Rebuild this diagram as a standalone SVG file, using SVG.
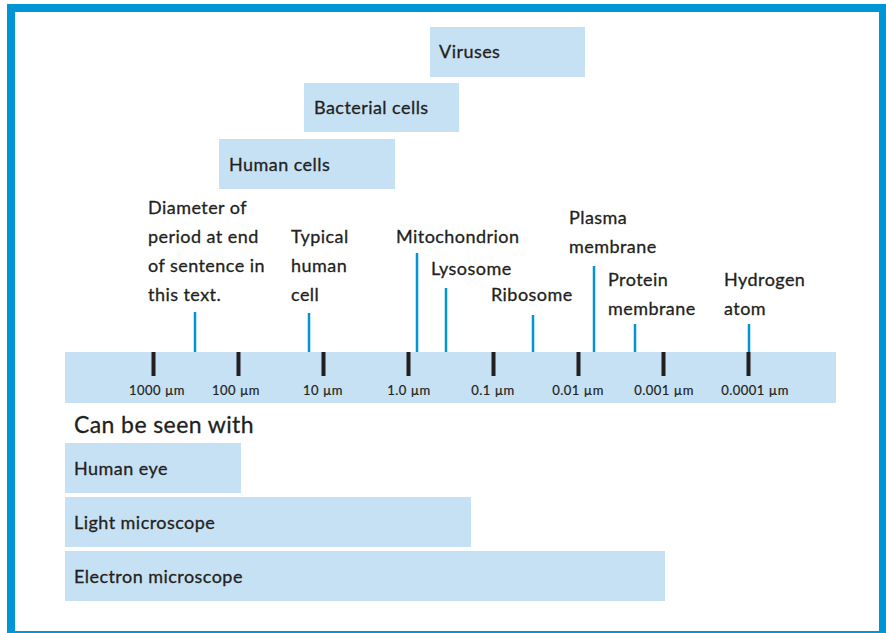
<svg xmlns="http://www.w3.org/2000/svg" width="886" height="633" viewBox="0 0 886 633">
<style>
.bar{fill:#c7e1f4}
.t{font-family:Lato,"Noto Sans",sans-serif;font-size:18px;letter-spacing:0.45px;fill:#231f20;stroke:#231f20;stroke-width:0.3}
.s{font-family:Lato,"Noto Sans",sans-serif;font-size:13px;letter-spacing:0.5px;fill:#231f20;text-anchor:middle;stroke:#231f20;stroke-width:0.2}
.tick{fill:#231f20}
.ln{stroke:#0096d6;stroke-width:2.5}
</style>
<rect width="886" height="633" fill="#fff"/>
<g id="frame" fill="#0096d6">
<rect x="7" y="4" width="879" height="8"/>
<rect x="7" y="4" width="8" height="629"/>
<rect x="879" y="4" width="7" height="629"/>
<rect x="7" y="631" width="879" height="2"/>
</g>
<g id="viruses"><rect class="bar" x="430" y="27" width="155" height="50"/><text class="t" x="439" y="58">Viruses</text></g>
<g id="bacterial"><rect class="bar" x="304" y="83" width="155" height="49"/><text class="t" x="314" y="114">Bacterial cells</text></g>
<g id="human-cells"><rect class="bar" x="219" y="139" width="176" height="50"/><text class="t" x="229" y="171">Human cells</text></g>
<g id="scale">
<rect class="bar" x="65" y="352" width="771" height="51"/>
<rect class="tick" x="151.5" y="352" width="4" height="24"/>
<rect class="tick" x="236.5" y="352" width="4" height="24"/>
<rect class="tick" x="321.5" y="352" width="4" height="24"/>
<rect class="tick" x="406.5" y="352" width="4" height="24"/>
<rect class="tick" x="491.5" y="352" width="4" height="24"/>
<rect class="tick" x="576.5" y="352" width="4" height="24"/>
<rect class="tick" x="661.5" y="352" width="4" height="24"/>
<rect class="tick" x="746.5" y="352" width="4" height="24"/>
<text class="s" x="157" y="395">1000 µm</text>
<text class="s" x="236" y="395">100 µm</text>
<text class="s" x="323" y="395">10 µm</text>
<text class="s" x="409" y="395">1.0 µm</text>
<text class="s" x="493" y="395">0.1 µm</text>
<text class="s" x="578" y="395">0.01 µm</text>
<text class="s" x="664" y="395">0.001 µm</text>
<text class="s" x="755" y="395">0.0001 µm</text>
</g>
<g id="connectors">
<line class="ln" x1="195" y1="312" x2="195" y2="352"/>
<line class="ln" x1="309" y1="313" x2="309" y2="352"/>
<line class="ln" x1="417" y1="253" x2="417" y2="352"/>
<line class="ln" x1="446" y1="288" x2="446" y2="352"/>
<line class="ln" x1="533" y1="315" x2="533" y2="352"/>
<line class="ln" x1="594" y1="266" x2="594" y2="352"/>
<line class="ln" x1="635" y1="324" x2="635" y2="352"/>
<line class="ln" x1="749" y1="324" x2="749" y2="352"/>
</g>
<g id="period"><text class="t" x="148" y="214">Diameter of</text><text class="t" x="148" y="243">period at end</text><text class="t" x="148" y="272">of sentence in</text><text class="t" x="148" y="301">this text.</text></g>
<g id="typical"><text class="t" x="291" y="243">Typical</text><text class="t" x="291" y="272">human</text><text class="t" x="291" y="301">cell</text></g>
<g id="mito"><text class="t" x="396" y="243">Mitochondrion</text></g>
<g id="lyso"><text class="t" x="431" y="275">Lysosome</text></g>
<g id="ribo"><text class="t" x="491" y="301">Ribosome</text></g>
<g id="plasma"><text class="t" x="569" y="224">Plasma</text><text class="t" x="569" y="253">membrane</text></g>
<g id="protein"><text class="t" x="608" y="286">Protein</text><text class="t" x="608" y="315">membrane</text></g>
<g id="hydrogen"><text class="t" x="724" y="286">Hydrogen</text><text class="t" x="724" y="315">atom</text></g>
<g id="seen"><text class="t" x="74" y="433" style="font-size:23px;letter-spacing:0.4px">Can be seen with</text></g>
<g id="eye"><rect class="bar" x="65" y="443" width="176" height="50"/><text class="t" x="74" y="475">Human eye</text></g>
<g id="light"><rect class="bar" x="65" y="497" width="406" height="50"/><text class="t" x="74" y="529">Light microscope</text></g>
<g id="electron"><rect class="bar" x="65" y="551" width="600" height="50"/><text class="t" x="74" y="583">Electron microscope</text></g>
</svg>
